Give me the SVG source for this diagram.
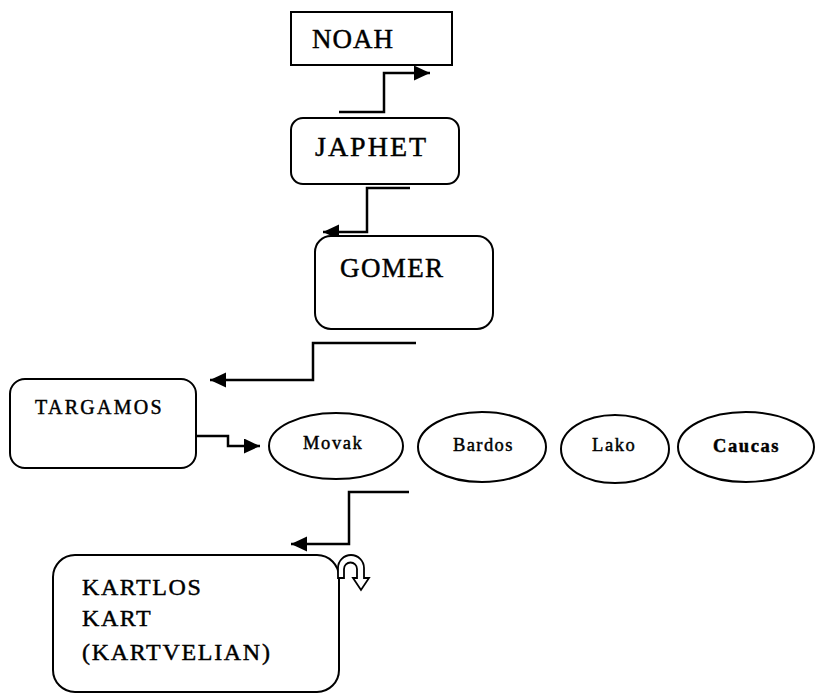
<svg xmlns="http://www.w3.org/2000/svg" width="815" height="693" viewBox="0 0 815 693">
  <defs>
    <marker id="arrow" markerUnits="userSpaceOnUse" markerWidth="17" markerHeight="16" refX="16" refY="7.5" orient="auto">
      <path d="M0,0 L16,7.5 L0,15 Z" fill="#000"/>
    </marker>
  </defs>
  <style>
    .box { fill: #fff; stroke: #000; stroke-width: 2; }
    .lbl { font-family: "Liberation Serif", "Times New Roman", serif; fill: #000; stroke: #000; stroke-width: 0.45; }
    .big { font-size: 27px; letter-spacing: 1.5px; }
    .mid { font-size: 20px; letter-spacing: 2.3px; }
    .small { font-size: 18.5px; letter-spacing: 1.6px; }
    .kart { font-size: 24px; letter-spacing: 1.6px; }
    .conn { fill: none; stroke: #000; stroke-width: 2.5; marker-end: url(#arrow); }
  </style>
  <rect width="815" height="693" fill="#fff"/>

  <g id="connectors">
    <path class="conn" d="M339,112 H384 V73 H430"/>
    <path class="conn" d="M410,188 H367 V232 H323"/>
    <path class="conn" d="M416,343 H313 V380 H210"/>
    <path class="conn" d="M196,436 H228 V446 H260"/>
    <path class="conn" d="M409,492 H349 V544 H291"/>
  </g>

  <g id="noah">
    <rect class="box" x="291" y="12" width="161" height="53"/>
    <text class="lbl big" x="312" y="48" style="letter-spacing:1px">NOAH</text>
  </g>

  <g id="japhet">
    <rect class="box" x="291" y="118" width="168" height="66" rx="12"/>
    <text class="lbl big" x="315" y="156" style="font-size:28px;letter-spacing:2px">JAPHET</text>
  </g>

  <g id="gomer">
    <rect class="box" x="315" y="236" width="178" height="93" rx="16"/>
    <text class="lbl big" x="340" y="277" style="letter-spacing:1.4px">GOMER</text>
  </g>

  <g id="targamos">
    <rect class="box" x="10" y="379" width="186" height="89" rx="15"/>
    <text class="lbl mid" x="35" y="414">TARGAMOS</text>
  </g>

  <g id="movak">
    <ellipse class="box" cx="336" cy="446" rx="67" ry="33"/>
    <text class="lbl small" x="303" y="449">Movak</text>
  </g>

  <g id="bardos">
    <ellipse class="box" cx="482" cy="447" rx="64" ry="35"/>
    <text class="lbl small" x="453" y="451" style="letter-spacing:1.4px">Bardos</text>
  </g>

  <g id="lako">
    <ellipse class="box" cx="615" cy="449" rx="54" ry="34"/>
    <text class="lbl small" x="592" y="451">Lako</text>
  </g>

  <g id="caucas">
    <ellipse class="box" cx="746" cy="447" rx="68" ry="35"/>
    <text class="lbl small" x="713" y="452" font-weight="bold" style="letter-spacing:1.6px">Caucas</text>
  </g>

  <g id="kartlos">
    <rect class="box" x="53" y="555" width="286" height="137" rx="22"/>
    <text class="lbl kart" x="82" y="595">KARTLOS</text>
    <text class="lbl kart" x="82" y="626">KART</text>
    <text class="lbl kart" x="82" y="660" style="letter-spacing:1.7px">(KARTVELIAN)</text>
    <!-- curved return arrow beside the box -->
    <path d="M338,578 L338,568 A13,13 0 0 1 364,568 L364,578 L369,578 L361,590 L353,578 L357,578 L357,569 A6.5,6.5 0 0 0 344,569 L344,578 Z" fill="#fff" stroke="#000" stroke-width="1.8" stroke-linejoin="miter"/>
  </g>
</svg>
